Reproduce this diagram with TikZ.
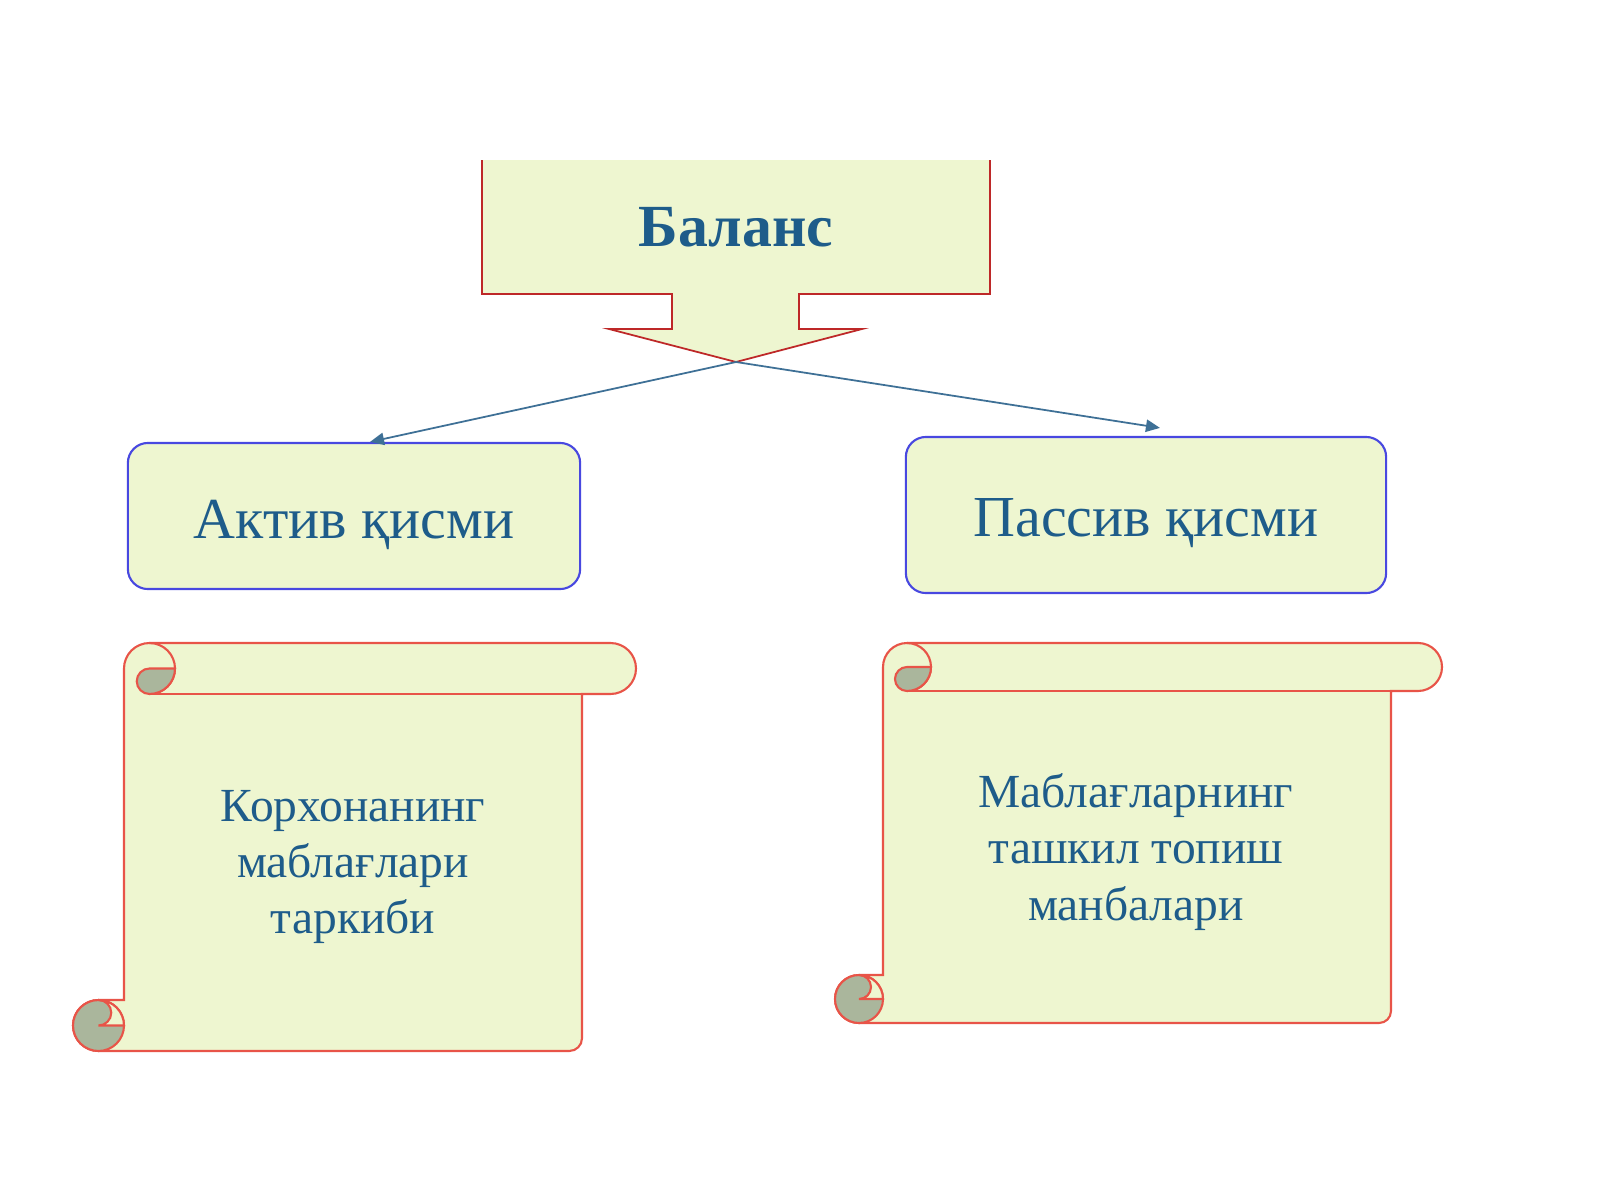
\documentclass[tikz,border=0pt]{standalone}
\usepackage{fontspec}
\setmainfont{Liberation Serif}
\usetikzlibrary{positioning,arrows.meta}
\definecolor{paperfill}{RGB}{238,246,208}
\definecolor{scrolledge}{RGB}{232,84,72}
\definecolor{arrowedge}{RGB}{190,40,40}
\definecolor{boxedge}{RGB}{72,72,224}
\definecolor{curlfill}{RGB}{170,182,156}
\definecolor{textblue}{RGB}{30,92,138}
\definecolor{linkblue}{RGB}{62,112,150}

\begin{document}
\begin{tikzpicture}[x=0.01cm,y=0.01cm,
  partbox/.style={draw=boxedge,line width=0.6pt,fill=paperfill,rounded corners=0.2cm,
    text=textblue,font=\fontsize{16.5}{20}\selectfont},
  scrolltext/.style={text=textblue,align=center,font=\fontsize{13.5}{16}\selectfont},
  paper/.style={fill=paperfill,draw=scrolledge,line width=0.6pt},
  edge/.style={draw=scrolledge,line width=0.6pt},
  curl/.style={fill=curlfill,draw=scrolledge,line width=0.6pt},
  link/.style={draw=linkblue,line width=0.5pt,-{Triangle[length=4pt,width=3.5pt]}}]

  \useasboundingbox (0,0) rectangle (1600,-1200);
  \fill[white] (0,0) rectangle (1600,-1200);

  % the two scrolls
  \foreach \xl/\yt/\xr/\yb/\rh in {73/643/636/1051/51,835/643/1442/1023/48}{
    \pgfmathsetmacro\hr{\rh/2}
    \pgfmathsetmacro\qr{\rh/4}
    \draw[paper] (\xl+\rh,-\yt-\hr) arc[start angle=180,end angle=90,radius=\hr]
      -- (\xr-\hr,-\yt) arc[start angle=90,end angle=-90,radius=\hr]
      -- (\xr-\rh-3,-\yt-\rh) -- (\xr-\rh-3,-\yb+\qr) arc[start angle=0,end angle=-90,radius=\qr]
      -- (\xl+\hr,-\yb) arc[start angle=270,end angle=90,radius=\hr]
      -- (\xl+\rh,-\yb+\rh) -- cycle;
    \draw[edge] (\xr-\rh,-\yt-\rh) -- (\xl+\rh+\hr,-\yt-\rh);
    \draw[edge] (\xl+\rh+\hr,-\yt) arc[start angle=90,end angle=-90,radius=\hr];
    \draw[curl] (\xl+\rh+\hr,-\yt-\hr) arc[start angle=90,end angle=270,radius=\qr]
      arc[start angle=270,end angle=360,radius=\hr] -- cycle;
    \draw[curl] (\xl+\hr,-\yb+\hr) circle[radius=\hr];
    \draw[paper] (\xl+\hr,-\yb+\rh) arc[start angle=90,end angle=0,radius=\hr]
      -- (\xl+\hr,-\yb+\hr) arc[start angle=-90,end angle=90,radius=\qr] -- cycle;
  }

  % block arrow
  \coordinate (tip) at (736,-362);
  \fill[paperfill] (482,-160) -- (482,-294) -- (672,-294) -- (672,-329) -- (609,-329)
    -- (tip) -- (862,-329) -- (799,-329) -- (799,-294) -- (990,-294) -- (990,-160) -- cycle;
  \draw[draw=arrowedge,line width=0.5pt] (482,-160) -- (482,-294) -- (672,-294) -- (672,-329)
    -- (609,-329) -- (tip) -- (862,-329) -- (799,-329) -- (799,-294) -- (990,-294) -- (990,-160);
  \node[text=textblue,font=\fontsize{17}{20}\selectfont\bfseries] (balans) at (736,-227) {Баланс};

  \node[partbox,minimum width=4.52cm,minimum height=1.46cm] (aktiv) at (354,-516) {\raisebox{-0.22cm}[0pt][0pt]{Актив қисми}};
  \node[partbox,minimum width=4.8cm,minimum height=1.56cm] (passiv) at (1146,-515) {\raisebox{-0.21cm}[0pt][0pt]{Пассив қисми}};

  \draw[link] (tip) -- ([xshift=0.16cm]aktiv.north);
  \draw[link] (tip) -- ([xshift=0.14cm,yshift=0.08cm]passiv.north);

  \node[scrolltext] (aktivtext) at (353,-867) {Корхонанинг\\маблағлари\\таркиби};
  \node[scrolltext] (passivtext) at (1136,-852) {Маблағларнинг\\ташкил топиш\\манбалари};
\end{tikzpicture}
\end{document}
